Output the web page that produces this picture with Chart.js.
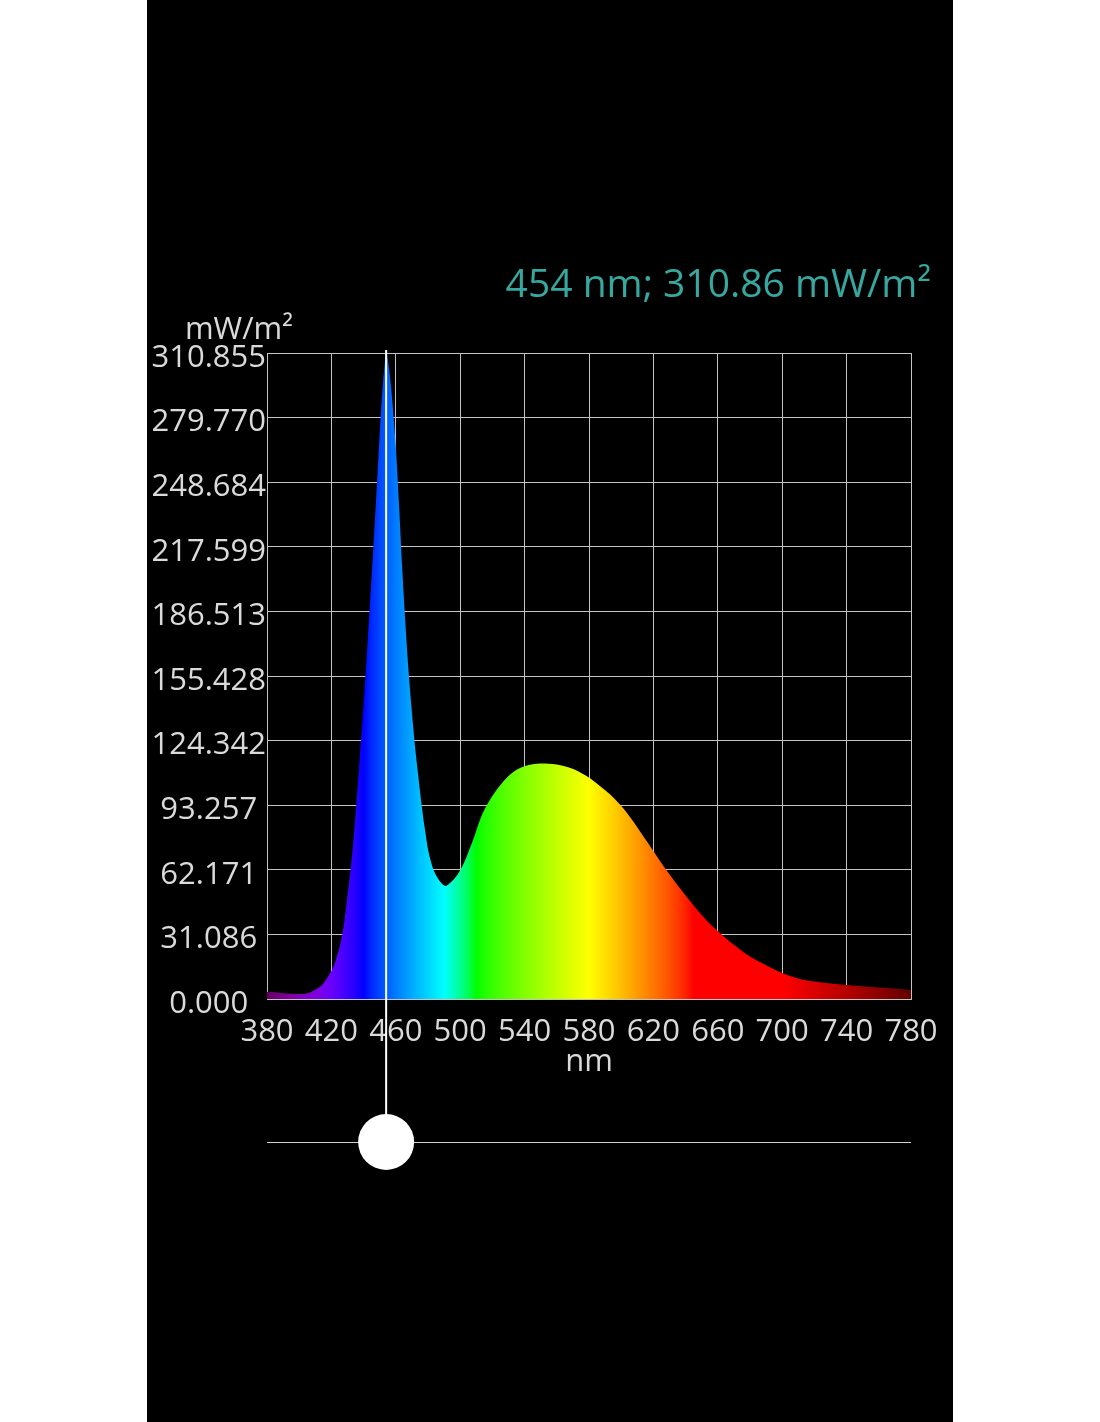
<!DOCTYPE html>
<html>
<head>
<meta charset="utf-8">
<script src="https://cdn.jsdelivr.net/npm/chart.js@4.4.0/dist/chart.umd.min.js"></script>
<style>
    html, body { margin: 0; padding: 0; background: #fff; }
    #panel { position: absolute; left: 147px; top: 0; width: 806px; height: 1422px; background: #000; }
    canvas { display: block; }
</style>
</head>
<body>
<div id="panel"><canvas id="spectrumChart" width="806" height="1422"></canvas></div>
<script>
// spectrum (nm -> mW/m²)
const wavelengths = [
    380, 385, 390, 395, 400, 405, 410, 413, 415, 418, 421, 424, 426, 428, 430, 432,
    434, 436, 438, 440, 442, 444, 446, 448, 450, 451, 452, 453, 454, 455, 456, 457,
    458, 460, 462, 464, 466, 468, 470, 472, 474, 476, 478, 480, 483, 485, 487, 489,
    491, 494, 497, 500, 502, 504, 506, 508, 510, 512, 514, 516, 519, 522, 525, 528,
    531, 535, 540, 545, 550, 555, 560, 566, 571, 576, 581, 586, 591, 596, 601, 606,
    611, 616, 621, 626, 631, 636, 641, 646, 651, 656, 661, 666, 671, 676, 681, 686,
    691, 696, 701, 706, 711, 720, 730, 740, 750, 760, 770, 780
];
const irradiance = [
    3.5, 3.2, 2.8, 2.5, 2.4, 2.8, 4.5, 6.0, 7.5, 11, 15, 22, 28, 37, 50, 63,
    79, 99, 120, 142, 166, 191, 217, 244, 272, 285, 296, 305, 310.86, 308, 302, 295,
    286, 266, 238, 207, 180, 157, 138, 121, 107, 93.5, 82, 72, 63, 59.5, 57, 55.2,
    54.4, 56, 58.5, 62, 65, 68.5, 72.5, 76.5, 81, 85.5, 89.5, 92.5, 96.5, 100, 103, 105.8,
    108, 110.3, 112, 113, 113.3, 113.2, 112.8, 111.8, 110.4, 108.4, 106, 103, 99.8, 96.2, 92, 87,
    81.5, 75.8, 70, 64.3, 59, 53.8, 48.8, 44, 39.6, 35.5, 32, 28.5, 25.5, 22.5, 20, 17.8,
    15.9, 13.8, 12.2, 10.8, 9.6, 8.4, 7.4, 6.7, 6.1, 5.5, 5.0, 4.3
];
const xTicks = [380, 420, 460, 500, 540, 580, 620, 660, 700, 740, 780];
const yTickLabels = ['0.000', '31.086', '62.171', '93.257', '124.342', '155.428',
    '186.513', '217.599', '248.684', '279.770', '310.855'];
const yMax = 310.855;
const cursorNm = 454;
const unitLabel = 'mW/m²';
const xUnit = 'nm';

const FONT = '"Open Sans", sans-serif';
const TEXT_COLOR = '#dadada';
const GRID_COLOR = '#c4c4c4';

// approximate visible colour for a wavelength
function wavelengthToColor(nm) {
    let r = 0, g = 0, b = 0;
    if (nm < 440) { r = (440 - nm) / 60; b = 1; }
    else if (nm < 490) { g = (nm - 440) / 50; b = 1; }
    else if (nm < 510) { g = 1; b = (510 - nm) / 20; }
    else if (nm < 580) { r = (nm - 510) / 70; g = 1; }
    else if (nm < 645) { r = 1; g = (645 - nm) / 65; }
    else { r = 1; }
    let f = 1;
    if (nm < 420) f = 0.3 + 0.7 * (nm - 380) / 40;
    else if (nm > 700) f = 0.3 + 0.7 * (780 - nm) / 80;
    const c = v => Math.round(255 * Math.pow(v * f, 0.8));
    return `rgb(${c(r)},${c(g)},${c(b)})`;
}

function spectrumFill(context) {
    const chart = context.chart;
    const { ctx, chartArea, scales } = chart;
    if (!chartArea) return 'rgba(0,0,0,0)';
    const x0 = scales.x.getPixelForValue(380);
    const x1 = scales.x.getPixelForValue(780);
    const grad = ctx.createLinearGradient(x0, 0, x1, 0);
    for (let nm = 380; nm <= 780; nm += 5) {
        grad.addColorStop((nm - 380) / 400, wavelengthToColor(nm));
    }
    return grad;
}

function valueAt(nm) {
    const i = wavelengths.indexOf(nm);
    return i >= 0 ? irradiance[i] : 0;
}

const readout = cursorNm + ' nm; ' + valueAt(cursorNm).toFixed(2) + ' ' + unitLabel;

const overlayPlugin = {
    id: 'overlay',
    afterDraw(chart) {
        const { ctx, chartArea, scales } = chart;
        const x = scales.x.getPixelForValue(cursorNm);
        const sliderY = 1142;
        ctx.save();

        ctx.font = '31px ' + FONT;
        ctx.fillStyle = TEXT_COLOR;
        ctx.textAlign = 'center';
        ctx.textBaseline = 'alphabetic';
        ctx.fillText(unitLabel, 92, 339);

        ctx.font = '39px ' + FONT;
        ctx.fillStyle = '#36a89f';
        ctx.textAlign = 'right';
        ctx.fillText(readout, 784, 297);

        ctx.strokeStyle = '#d0d0d0';
        ctx.lineWidth = 1;
        ctx.beginPath();
        ctx.moveTo(chartArea.left, sliderY + 0.5);
        ctx.lineTo(chartArea.right, sliderY + 0.5);
        ctx.stroke();

        ctx.strokeStyle = '#ffffff';
        ctx.lineWidth = 2;
        ctx.beginPath();
        ctx.moveTo(x, chartArea.top - 3);
        ctx.lineTo(x, sliderY);
        ctx.stroke();

        ctx.fillStyle = '#ffffff';
        ctx.beginPath();
        ctx.arc(x, sliderY, 28, 0, Math.PI * 2);
        ctx.fill();
        ctx.restore();
    }
};

const ctx = document.getElementById('spectrumChart').getContext('2d');
new Chart(ctx, {
    type: 'line',
    data: {
        datasets: [{
            data: wavelengths.map((nm, i) => ({ x: nm, y: irradiance[i] })),
            fill: 'origin',
            backgroundColor: spectrumFill,
            borderWidth: 0,
            pointRadius: 0,
            cubicInterpolationMode: 'monotone'
        }]
    },
    options: {
        responsive: false,
        animation: false,
        layout: { padding: { top: 353, left: 0, right: 42, bottom: 341 } },
        plugins: {
            legend: { display: false },
            tooltip: { enabled: false }
        },
        scales: {
            x: {
                type: 'linear',
                min: 380,
                max: 780,
                afterBuildTicks: scale => { scale.ticks = xTicks.map(v => ({ value: v })); },
                afterFit: scale => { scale.height = 82; },
                grid: { color: GRID_COLOR, drawTicks: false },
                border: { color: GRID_COLOR },
                ticks: {
                    autoSkip: false,
                    maxRotation: 0,
                    padding: 15,
                    color: TEXT_COLOR,
                    font: { family: FONT, size: 31 }
                },
                title: {
                    display: true,
                    text: xUnit,
                    color: TEXT_COLOR,
                    font: { family: FONT, size: 31 },
                    padding: 0
                }
            },
            y: {
                min: 0,
                max: yMax,
                afterBuildTicks: scale => {
                    scale.ticks = yTickLabels.map((l, i) => ({ value: i * yMax / 10 }));
                },
                afterFit: scale => { scale.width = 120; },
                grid: { color: GRID_COLOR, drawTicks: false },
                border: { color: GRID_COLOR },
                ticks: {
                    autoSkip: false,
                    crossAlign: 'center',
                    padding: 1,
                    labelOffset: 5,
                    color: TEXT_COLOR,
                    font: { family: FONT, size: 31 },
                    callback: (v, i) => yTickLabels[i]
                }
            }
        }
    },
    plugins: [overlayPlugin]
});
</script>
</body>
</html>
